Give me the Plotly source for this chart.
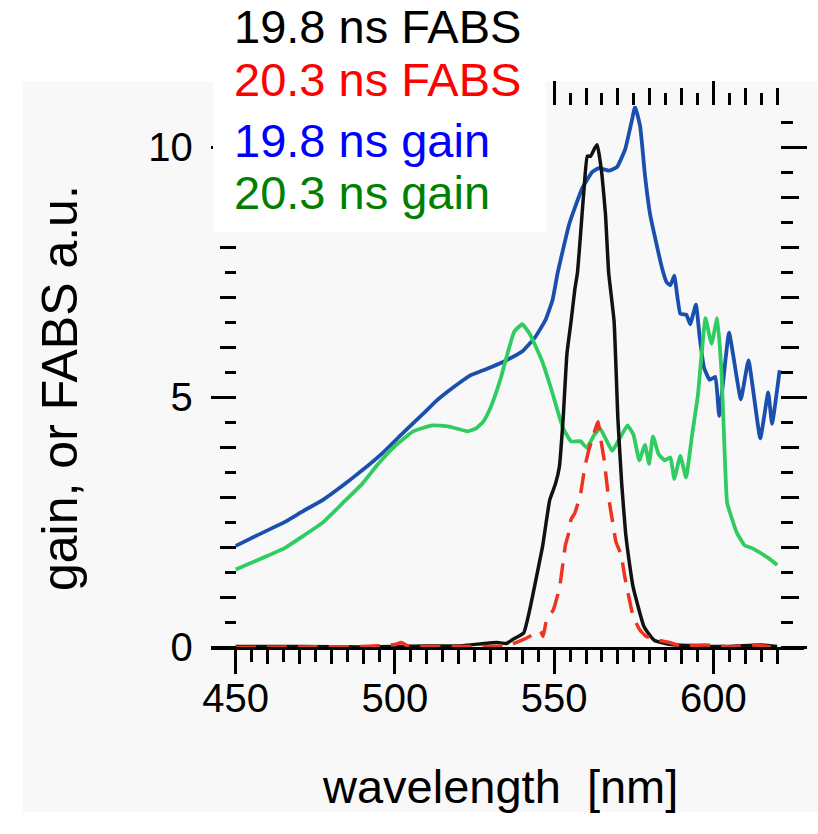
import plotly.graph_objects as go

W, H = 818, 834

# ---------------- data ----------------
legend_texts = ["19.8 ns FABS", "20.3 ns FABS", "19.8 ns gain", "20.3 ns gain"]
legend_colors = ["#000000", "#ff0000", "#0000ff", "#008000"]

fabs198_x = [450, 470, 490, 510, 520, 528, 532, 535, 537, 540.4, 542.3, 544.4, 546.4, 548.6, 550.4,
             551.6, 552.8, 554.0, 555.3, 556.5, 557.3, 559.3, 560.4, 561.4, 562.8, 563.5, 564.2,
             565.0, 566.1, 567.1, 568.8, 570.0, 571.2, 572.4, 573.7, 574.8, 578.1, 579.5, 581.5,
             586.8, 595, 605, 615, 620]
fabs198_y = [0.02, 0.02, 0.01, 0.03, 0.03, 0.08, 0.10, 0.08, 0.16, 0.29, 0.75, 1.40, 2.04, 2.95, 3.27,
             3.60, 4.57, 5.87, 6.52, 7.17, 7.49, 9.11, 9.82, 9.82, 9.99, 10.05, 9.82,
             9.44, 8.66, 7.49, 6.52, 4.57, 3.27, 2.30, 1.65, 1.20, 0.43, 0.29, 0.14,
             0.06, 0.03, 0.02, 0.05, 0.02]

fabs203_x = [450, 470, 490, 500, 502, 504, 520, 535, 540.4, 544.4, 545.7, 546.5, 547.6, 549.7, 551.7,
             553.5, 554.6, 555.3, 556.5, 558.3, 559.6, 560.8, 562.0, 563.3, 563.8, 564.4, 565.7,
             566.9, 568.2, 569.4, 571.0, 572.2, 574.8, 576.8, 578.7, 581.5, 586.1, 589.3, 597.4,
             605, 613, 618]
fabs203_y = [0.0, 0.01, 0.02, 0.06, 0.10, 0.03, 0.02, 0.03, 0.16, 0.29, 0.33, 0.22, 0.55, 0.75, 1.20,
             2.04, 2.30, 2.56, 2.69, 3.08, 3.60, 3.93, 4.18, 4.44, 4.51, 4.25, 3.74,
             3.08, 2.56, 2.11, 1.85, 1.40, 0.62, 0.36, 0.23, 0.16, 0.10, 0.04, 0.05,
             0.01, 0.05, 0.01]

gain198_x = [450, 457, 465.2, 471, 477.4, 483.5, 489.7, 496, 501.9, 505.5, 509.3, 513, 516.7, 521.6,
             524.0, 526.5, 530.5, 535.0, 540.0, 544.0, 547.3, 549.5, 551.1,
             554.7, 558.8, 561.9, 564.0, 567.1, 569.7, 572.3, 574.4, 575.4, 577.0, 578.5, 580.1,
             581.6, 584.0, 585.3, 586.5, 587.7, 589.6, 591.5, 592.7, 594.5, 595.7, 597.0, 598.8,
             600.6, 601.8, 604.9, 608.6, 611.0, 614.7, 617.2, 618.4, 620.8]
gain198_y = [2.03, 2.25, 2.50, 2.72, 2.95, 3.23, 3.54, 3.88, 4.25, 4.47, 4.70, 4.93, 5.12, 5.35,
             5.45, 5.51, 5.61, 5.74, 5.92, 6.20, 6.55, 6.95, 7.49,
             8.46, 9.18, 9.50, 9.58, 9.53, 9.60, 9.96, 10.54, 10.81, 10.41, 9.44, 8.66,
             8.21, 7.55, 7.30, 7.24, 7.43, 6.67, 6.65, 6.46, 6.85, 6.19, 5.60, 5.35,
             5.41, 4.63, 6.29, 4.96, 5.74, 4.18, 5.10, 4.47, 5.54]

gain203_x = [450, 457, 465.2, 471, 477.4, 483.5, 489.7, 494.5, 499.4, 505.7, 511.7, 516.7, 522.8,
             525.5, 527.7, 529.5, 531.4, 533.3, 535.0, 537.5, 540.0, 542.4, 544.3, 546.1, 548.0,
             549.7, 551.2, 552.8, 555.3, 558.3, 560.2, 562.6, 564.4, 568.2, 570.6,
             573.0, 574.9, 576.7, 578.5, 579.8, 581.0, 582.8, 584.7, 586.5, 587.7, 589.6, 591.4,
             593.3, 595.1, 596.3, 597.5, 599.4, 601.2, 602.5, 603.7, 604.3, 607.3, 609.8, 612.3,
             614.7, 617.2, 620.0]
gain203_y = [1.56, 1.75, 1.98, 2.22, 2.50, 2.88, 3.27, 3.65, 3.99, 4.32, 4.44, 4.42, 4.32,
             4.38, 4.51, 4.72, 5.03, 5.40, 5.80, 6.32, 6.46, 6.26, 6.00, 5.74, 5.38,
             5.03, 4.70, 4.38, 4.12, 4.12, 3.99, 4.25, 4.38, 3.93, 4.18,
             4.44, 4.25, 3.74, 4.05, 3.67, 4.22, 3.86, 3.74, 3.80, 3.37, 3.83, 3.40,
             4.25, 5.03, 5.87, 6.58, 6.07, 6.58, 5.54, 3.60, 2.89, 2.30, 2.04, 1.98,
             1.89, 1.79, 1.65]

x_major = [450, 500, 550, 600]
x_tens = [460, 470, 480, 490, 510, 520, 530, 540, 560, 570, 580, 590, 610, 620]
x_fives = [455 + 10 * i for i in range(17)]
top_major = [550, 600]
top_tens = [560, 570, 580, 590, 610, 620]
top_fives = [555, 565, 575, 585, 595, 605, 615]
y_major = [0, 5, 10]
y_ints = [1, 2, 3, 4, 6, 7, 8, 9, 10]
y_halves = [0.5 + i for i in range(11)]

# ---------------- geometry helpers (pixels -> paper) ----------------
def px(x):
    return x / W

def py(y):
    return 1 - y / H

XR = [442.23, 628.48]
YR = [0, 10.82]
xdom = [px(205), px(804)]
ydom = [py(665), py(109)]
pos_left = px(230)
pos_right = px(780)

FONT = "Liberation Sans, Arial, Helvetica, sans-serif"
TW = 3

fig = go.Figure()
fig.add_trace(go.Scatter(x=gain198_x, y=gain198_y, mode="lines",
                         line=dict(color="#1a4fae", width=3.8, shape="spline", smoothing=0.35),
                         showlegend=False))
fig.add_trace(go.Scatter(x=gain203_x, y=gain203_y, mode="lines",
                         line=dict(color="#2fcc62", width=3.8, shape="spline", smoothing=0.35),
                         showlegend=False))
fig.add_trace(go.Scatter(x=fabs198_x, y=fabs198_y, mode="lines",
                         line=dict(color="#111111", width=3.5, shape="spline", smoothing=0.4),
                         showlegend=False))
fig.add_trace(go.Scatter(x=fabs203_x, y=fabs203_y, mode="lines",
                         line=dict(color="#ee3322", width=3.5, dash="20px,11px",
                                   shape="spline", smoothing=0.4),
                         showlegend=False))
# dummy traces to create overlay axes
for k in (2, 3, 4):
    fig.add_trace(go.Scatter(x=[], y=[], xaxis=f"x{k}", yaxis=f"y{k}", showlegend=False))

common_x = dict(range=XR, showgrid=False, zeroline=False, ticks="outside", tickwidth=TW,
                tickcolor="black")
common_y = dict(range=YR, domain=ydom, showgrid=False, zeroline=False, ticks="outside",
                tickwidth=TW, tickcolor="black", anchor="free", showline=False)

fig.update_layout(
    width=W, height=H, margin=dict(l=0, r=0, t=0, b=0),
    paper_bgcolor="white", plot_bgcolor="#f8f8f8",
    xaxis=dict(**common_x, domain=xdom, anchor="y", side="bottom",
               showline=True, linecolor="black", linewidth=3,
               tickmode="array", tickvals=x_major, ticklen=24,
               tickfont=dict(family=FONT, size=40, color="black"),
               ticklabelstandoff=-10,
               minor=dict(tickmode="array", tickvals=x_fives, ticklen=12, tickwidth=TW,
                          ticks="outside", tickcolor="black")),
    xaxis2=dict(**common_x, overlaying="x", anchor="y", side="bottom", showline=False,
                tickmode="array", tickvals=x_tens, ticklen=16, showticklabels=False),
    xaxis3=dict(**common_x, overlaying="x", anchor="y", side="top", showline=False,
                tickmode="array", tickvals=top_major, ticklen=24, showticklabels=False,
                minor=dict(tickmode="array", tickvals=top_fives, ticklen=12, tickwidth=TW,
                           ticks="outside", tickcolor="black")),
    xaxis4=dict(**common_x, overlaying="x", anchor="y", side="top", showline=False,
                tickmode="array", tickvals=top_tens, ticklen=17, showticklabels=False),
    yaxis=dict(**common_y, position=pos_left, side="left",
               tickmode="array", tickvals=y_major, ticklen=25,
               tickfont=dict(family=FONT, size=40, color="black"),
               ticklabelstandoff=10,
               minor=dict(tickmode="array", tickvals=y_halves, ticklen=11, tickwidth=TW,
                          ticks="outside", tickcolor="black")),
    yaxis2=dict(**common_y, overlaying="y", position=pos_left, side="left",
                tickmode="array", tickvals=y_ints, ticklen=16, showticklabels=False),
    yaxis3=dict(**common_y, overlaying="y", position=pos_right, side="right",
                tickmode="array", tickvals=y_major, ticklen=26, showticklabels=False,
                minor=dict(tickmode="array", tickvals=y_halves, ticklen=12, tickwidth=TW,
                           ticks="outside", tickcolor="black")),
    yaxis4=dict(**common_y, overlaying="y", position=pos_right, side="right",
                tickmode="array", tickvals=y_ints, ticklen=18, showticklabels=False),
)

shapes = [
    # gray scanned page background
    dict(type="rect", xref="paper", yref="paper", x0=px(15), x1=1, y0=0, y1=py(84),
         fillcolor="#f8f8f8", line=dict(width=0), layer="below"),
    # white legend box
    dict(type="rect", xref="paper", yref="paper", x0=px(207), x1=px(543), y0=py(238), y1=1,
         fillcolor="white", line=dict(width=0), layer="above"),
]
fig.update_layout(shapes=shapes)

ann = []
leg_y = [27, 82, 144, 198]
for t, c, yy in zip(legend_texts, legend_colors, leg_y):
    ann.append(dict(text=t, x=px(226), y=py(yy), xref="paper", yref="paper",
                    xanchor="left", yanchor="middle", showarrow=False,
                    font=dict(family=FONT, size=47, color=c)))
ann.append(dict(text="gain, or FABS a.u.", x=px(52), y=py(398), xref="paper", yref="paper",
                xanchor="center", yanchor="middle", textangle=-90, showarrow=False,
                font=dict(family=FONT, size=50, color="black")))
ann.append(dict(text="wavelength  [nm]", x=px(497), y=py(808), xref="paper", yref="paper",
                xanchor="center", yanchor="middle", showarrow=False,
                font=dict(family=FONT, size=47, color="black")))
fig.update_layout(annotations=ann)

fig.write_html("out.html")
